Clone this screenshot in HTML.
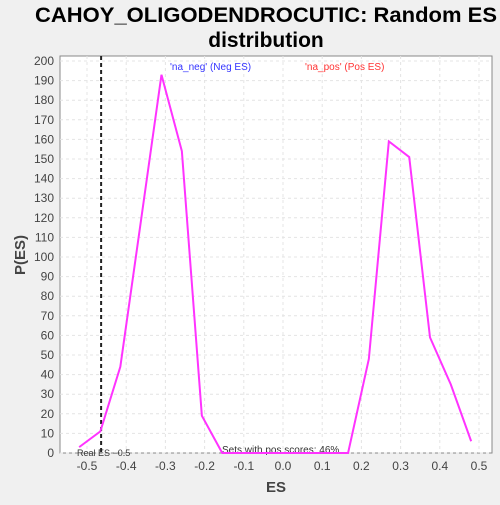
<!DOCTYPE html>
<html><head><meta charset="utf-8"><style>
body{margin:0;background:#f0f0f0;font-family:"Liberation Sans",sans-serif}
</style></head><body>
<svg width="500" height="500" xmlns="http://www.w3.org/2000/svg">
<rect width="500" height="500" fill="#f0f0f0"/>
<text x="266" y="22" text-anchor="middle" font-size="21" font-weight="bold" textLength="462" lengthAdjust="spacingAndGlyphs" fill="#000">CAHOY_OLIGODENDROCUTIC: Random ES</text>
<text x="266" y="47" text-anchor="middle" font-size="21" font-weight="bold" fill="#000">distribution</text>
<rect x="60" y="56" width="432" height="397" fill="#fff" stroke="#888"/>
<g id="grid"></g><g id="axes"></g>
<text x="276" y="492" text-anchor="middle" font-size="15" font-weight="bold" fill="#444">ES</text>
<text x="25" y="255" text-anchor="middle" font-size="15" font-weight="bold" fill="#444" transform="rotate(-90 25 255)">P(ES)</text>
<text x="170" y="70" font-size="10" fill="#3333ff">'na_neg' (Neg ES)</text>
<text x="305" y="70" font-size="10" fill="#ff3333">'na_pos' (Pos ES)</text>
<text x="222" y="453" font-size="10" fill="#333">Sets with pos scores: 46%</text>
<text x="77" y="456" font-size="9" fill="#333">Real ES −0.5</text>
<g id="marks"></g>
</svg>
<script>
const xVals=[-0.52,-0.466,-0.415,-0.362,-0.31,-0.258,-0.207,-0.155,0.166,0.219,0.27,0.322,0.375,0.428,0.48];
const yVals=[3,11,44,119,193,154,19,0,0,48,159,151,59,35,6];
const xTicks=[-0.5,-0.4,-0.3,-0.2,-0.1,0.0,0.1,0.2,0.3,0.4,0.5];
const yTicks=[0,10,20,30,40,50,60,70,80,90,100,110,120,130,140,150,160,170,180,190,200];
const realES=-0.464;
const X=v=>283+v*392, Y=v=>453-v*1.96;
const NS="http://www.w3.org/2000/svg";
function mk(t,a,p){const e=document.createElementNS(NS,t);for(const k in a)e.setAttribute(k,a[k]);p.appendChild(e);return e;}
const g=document.getElementById('grid'),ax=document.getElementById('axes'),m=document.getElementById('marks');
xTicks.forEach(t=>{
 const l=mk('line',{x1:X(t),x2:X(t),y1:56,y2:453,stroke:'#e4e4e4','stroke-dasharray':'3,3'},g);
 
 
 const s=mk('text',{x:X(t),y:470,'text-anchor':'middle','font-size':12,fill:'#444'},ax);
 s.textContent=t.toFixed(1);
 
 
});
yTicks.forEach(t=>{
 const l=mk('line',{x1:60,x2:492,y1:Y(t),y2:Y(t),stroke:'#e4e4e4','stroke-dasharray':'3,3'},g);
 
 
 const s=mk('text',{x:54,y:Y(t)+4,'text-anchor':'end','font-size':12,fill:'#444'},ax);
 s.textContent=t;
 
 
});
const rl=mk('line',{x1:X(realES),x2:X(realES),y1:56,y2:453,stroke:'#222','stroke-width':2,'stroke-dasharray':'4,3'},m);


const pl=mk('polyline',{points:xVals.map((x,i)=>X(x)+','+Y(yVals[i])).join(' '),fill:'none',stroke:'#ff33ff','stroke-width':2},m);


</script>
</body></html>
